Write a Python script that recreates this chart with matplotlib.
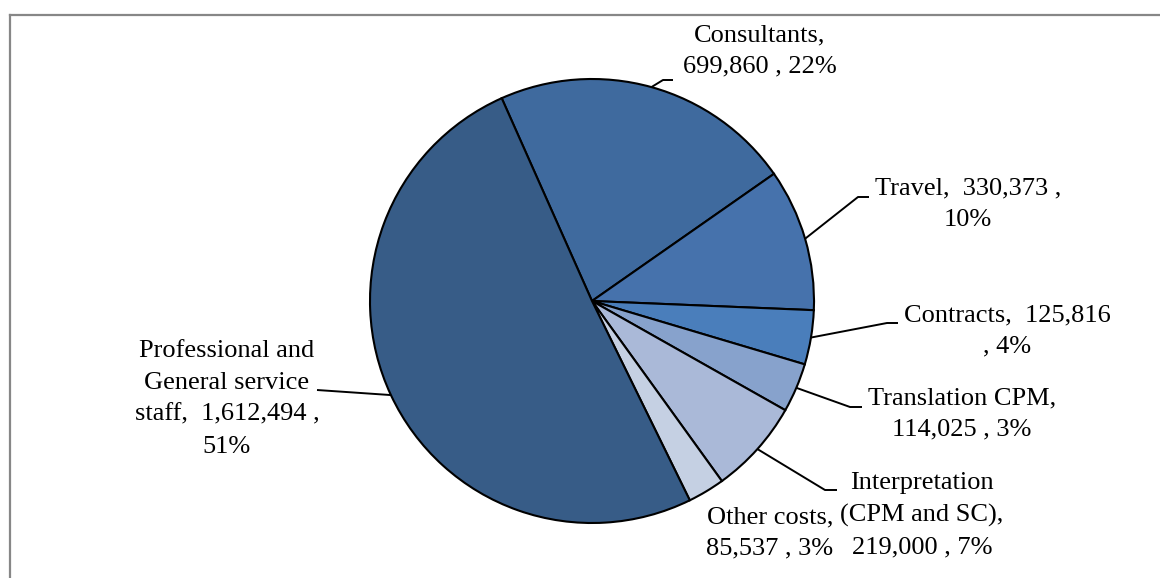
import numpy as np
import matplotlib
matplotlib.use('Agg')
import matplotlib.pyplot as plt
from matplotlib.lines import Line2D

# Data (clockwise order, as drawn)
names = ['Consultants', 'Travel', 'Contracts', 'Translation CPM',
         'Interpretation (CPM and SC)', 'Other costs',
         'Professional and General service staff']
amounts = [699860, 330373, 125816, 114025, 219000, 85537, 1612494]
label_texts = ['Consultants,\n699,860 , 22%',
               'Travel,  330,373 ,\n10%',
               'Contracts,  125,816\n, 4%',
               'Translation CPM,\n114,025 , 3%',
               'Interpretation\n(CPM and SC),\n219,000 , 7%',
               'Other costs,\n85,537 , 3%',
               'Professional and\nGeneral service\nstaff,  1,612,494 ,\n51%']
colors = ['#3F6A9E', '#4672AC', '#4A7EBB', '#87A2CC', '#AAB9D8', '#C5D0E3', '#375C87']

W, H = 1160, 578
plt.rcParams['font.family'] = ['Liberation Serif', 'DejaVu Serif']

fig = plt.figure(figsize=(W / 100, H / 100), dpi=100)
ax = fig.add_axes([0, 0, 1, 1])

cx, cy, r = 592, H - 301, 222
start = 114
wedges, _ = ax.pie(amounts, colors=colors, startangle=start, counterclock=False,
                   center=(cx, cy), radius=r,
                   wedgeprops=dict(edgecolor='black', linewidth=1.5))
ax.set_xlim(0, W)
ax.set_ylim(0, H)
ax.set_aspect('equal')
ax.axis('off')

# label placement: text centre (px from top-left), elbow and end of leader line
label_pos = [(760, 51), (968, 204), (1007, 331), (962, 414), (922, 515), (770, 533), (227, 399)]
leader_pts = [[(663, 80), (673, 80)],
              [(858, 197), (869, 197)],
              [(887, 323), (898, 323)],
              [(850, 407), (862, 407)],
              [(825, 490), (837, 490)],
              None,
              [(317, 390)]]

total = sum(amounts)
ang = start
for i, v in enumerate(amounts):
    span = 360.0 * v / total
    mid = np.radians(ang - span / 2)
    ang -= span
    tx, ty = label_pos[i]
    ax.text(tx, H - ty, label_texts[i], ha='center', va='center', fontsize=19,
            linespacing=1.57, color='black')
    if leader_pts[i] is not None:
        px = [cx + r * np.cos(mid)] + [p[0] for p in leader_pts[i]]
        py = [cy + r * np.sin(mid)] + [H - p[1] for p in leader_pts[i]]
        ax.plot(px, py, color='black', linewidth=1.4, solid_capstyle='butt')

# chart frame (cropped at right and bottom)
fig.add_artist(Line2D([9.5 / W, 1], [1 - 15 / H, 1 - 15 / H], color='#878787', linewidth=1.6))
fig.add_artist(Line2D([9.5 / W, 9.5 / W], [0, 1 - 15 / H], color='#878787', linewidth=1.6))

fig.savefig('out.png', dpi=100)
